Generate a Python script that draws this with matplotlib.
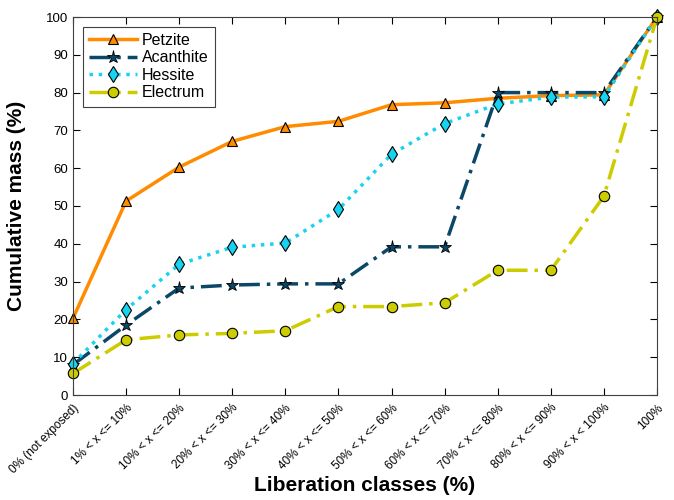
import matplotlib.pyplot as plt

plt.rcParams['font.family'] = ['Liberation Sans', 'DejaVu Sans']

# liberation classes on the x axis
classes = ['0% (not exposed)', '1% < x <= 10%', '10% < x <= 20%', '20% < x <= 30%',
           '30% < x <= 40%', '40% < x <= 50%', '50% < x <= 60%', '60% < x <= 70%',
           '70% < x <= 80%', '80% < x <= 90%', '90% < x < 100%', '100%']

# cumulative mass (%) per mineral
petzite = [20.3, 51.3, 60.3, 67.1, 71.0, 72.4, 76.8, 77.3, 78.5, 79.2, 79.4, 100]
acanthite = [8.0, 18.5, 28.3, 29.1, 29.4, 29.4, 39.2, 39.2, 80.0, 80.0, 80.0, 100]
hessite = [8.3, 22.6, 34.6, 39.1, 40.2, 49.1, 63.7, 71.8, 77.0, 78.8, 78.9, 100]
electrum = [5.7, 14.6, 15.9, 16.3, 17.0, 23.4, 23.4, 24.4, 33.0, 33.0, 52.6, 100]

x = list(range(len(classes)))

fig = plt.figure(figsize=(6.74, 5.0), dpi=100)
ax = fig.add_axes([73 / 674, 105 / 500, 584 / 674, 378 / 500])

dashdot = (0, (6, 2, 1, 2))
ax.plot(x, petzite, color='#FF8C00', linestyle='-', linewidth=2.5,
        marker='^', markersize=7.5, markerfacecolor='#FF8C00', markeredgecolor='black',
        markeredgewidth=0.8, label='Petzite', clip_on=False)
ax.plot(x, acanthite, color='#0B4766', linestyle=dashdot, linewidth=2.5,
        marker='*', markersize=9.5, markerfacecolor='#0B4766', markeredgecolor='black',
        markeredgewidth=0.6, label='Acanthite', clip_on=False)
ax.plot(x, hessite, color='#17D3F0', linestyle=':', linewidth=2.5,
        marker='d', markersize=8.5, markerfacecolor='#17D3F0', markeredgecolor='black',
        markeredgewidth=0.8, label='Hessite', clip_on=False)
ax.plot(x, electrum, color='#CCCC00', linestyle=dashdot, linewidth=2.5,
        marker='o', markersize=7.5, markerfacecolor='#CCCC00', markeredgecolor='black',
        markeredgewidth=0.8, label='Electrum', clip_on=False)

ax.set_xlim(0, 11)
ax.set_ylim(0, 100)
ax.set_yticks(range(0, 101, 10))
ax.set_xticks(x)
ax.set_xticklabels(classes, rotation=45, ha='right', rotation_mode='anchor')
ax.tick_params(axis='both', direction='in', top=True, right=True, labelsize=9.5, length=5)
ax.tick_params(axis='x', labelsize=8.5, pad=5)
for s in ax.spines.values():
    s.set_linewidth(0.8)
    s.set_color('#404040')

ax.set_xlabel('Liberation classes (%)', fontsize=15, fontweight='bold')
ax.xaxis.set_label_coords(0.5, -0.215)
ax.set_ylabel('Cumulative mass (%)', fontsize=15, fontweight='bold', labelpad=14)

leg = ax.legend(loc='upper left', fontsize=11.5, fancybox=False, framealpha=1,
                edgecolor='#404040', handlelength=3, borderaxespad=0.6,
                labelspacing=0.15, handletextpad=0.3)
leg.get_frame().set_linewidth(0.8)

fig.savefig('out.png', dpi=100)
